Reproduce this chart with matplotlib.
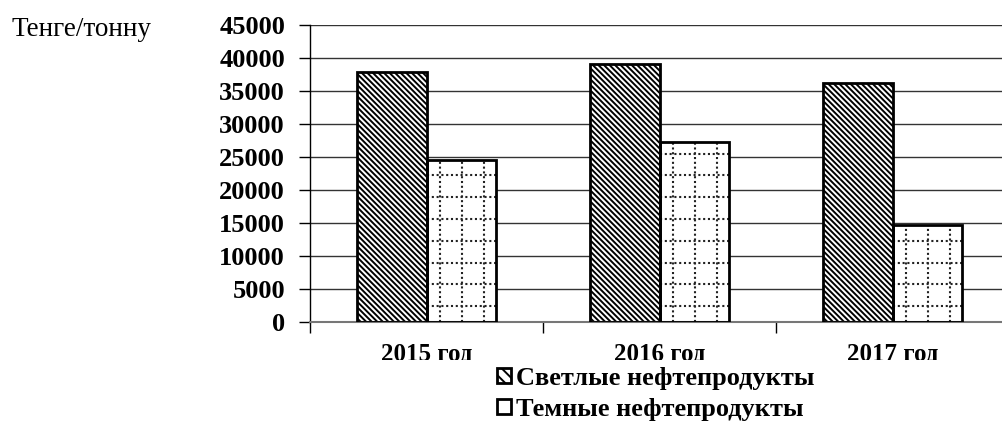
import matplotlib
matplotlib.use('Agg')
import matplotlib.pyplot as plt
from matplotlib.patches import Patch, Rectangle
import numpy as np

years = ["2015 год", "2016 год", "2017 год"]
light = [37900, 39100, 36200]
dark = [24500, 27200, 14700]
series_names = ["Светлые нефтепродукты", "Темные нефтепродукты"]
y_ticks = list(range(0, 45001, 5000))

plt.rcParams['font.family'] = ['Liberation Serif', 'DejaVu Serif']
plt.rcParams['hatch.linewidth'] = 1.4

fig = plt.figure(figsize=(10.02, 4.33), dpi=100)
ax = fig.add_axes([310 / 1002, 1 - 322 / 433, 699 / 1002, 297 / 433])

x = np.arange(len(years))
w = 0.3
diag = '\\' * 6

# light products: dense diagonal hatch
ax.bar(x - w / 2, light, w, color='white', edgecolor='black', hatch=diag, lw=0, zorder=2)
ax.bar(x - w / 2, light, w, color='none', edgecolor='black', lw=2, zorder=4)

# dark products: white bars with a dotted grid inside
dark_bars = ax.bar(x + w / 2, dark, w, color='white', edgecolor='none', lw=0, zorder=2)
ax.bar(x + w / 2, dark, w, color='none', edgecolor='black', lw=2, zorder=4)
dot = (0, (1, 1.3))
for rect in dark_bars:
    x0, h = rect.get_x(), rect.get_height()
    for xv in np.arange(x0 + 0.06, x0 + w, 0.094):
        ln, = ax.plot([xv, xv], [0, h], color='#222222', lw=1.5, ls=dot, zorder=3)
        ln.set_clip_path(rect)
    for yv in np.arange(2400, h, 3300):
        ln, = ax.plot([x0, x0 + w], [yv, yv], color='#222222', lw=1.5, ls=dot, zorder=3)
        ln.set_clip_path(rect)

ax.set_xlim(-0.5, 2.5)
ax.set_ylim(0, 45000)
ax.set_yticks(y_ticks)
ax.set_yticklabels([str(v) for v in y_ticks], fontsize=19, fontweight='bold')
ax.yaxis.grid(True, color='#333333', lw=1)
ax.set_axisbelow(True)

ax.set_xticks(x)
ax.set_xticklabels(years, fontsize=18, fontweight='bold')
ax.set_xticks([-0.5, 0.5, 1.5, 2.5], minor=True)
ax.tick_params(axis='x', which='major', length=0, pad=15)
ax.tick_params(axis='x', which='minor', length=8, width=1, direction='out')
ax.tick_params(axis='y', length=8, width=1, direction='out', pad=10)

for s in ['top', 'right']:
    ax.spines[s].set_visible(False)
ax.spines['left'].set_linewidth(1)
ax.spines['bottom'].set_color('#777777')
ax.spines['bottom'].set_linewidth(1.5)

fig.text(12 / 1002, 1 - 30 / 433, "Тенге/тонну", fontsize=19.5, va='center', ha='left')

# white strip that cuts the year labels like in the source image
fig.patches.append(Rectangle((0, 0), 1, 1 - 360 / 433, transform=fig.transFigure,
                             facecolor='white', edgecolor='none', zorder=1))

handles = [Patch(facecolor='white', edgecolor='black', hatch='\\\\\\', lw=2),
           Patch(facecolor='white', edgecolor='black', lw=2)]
leg = fig.legend(handles, series_names, loc='upper left',
                 bbox_to_anchor=(496 / 1002, 1 - 366 / 433),
                 frameon=False, prop={'size': 19, 'weight': 'bold'},
                 handlelength=0.5, handleheight=0.5, handletextpad=0.2,
                 labelspacing=0.3, borderpad=0.05, borderaxespad=0)
leg.set_zorder(5)

fig.savefig("out.png", dpi=100)
